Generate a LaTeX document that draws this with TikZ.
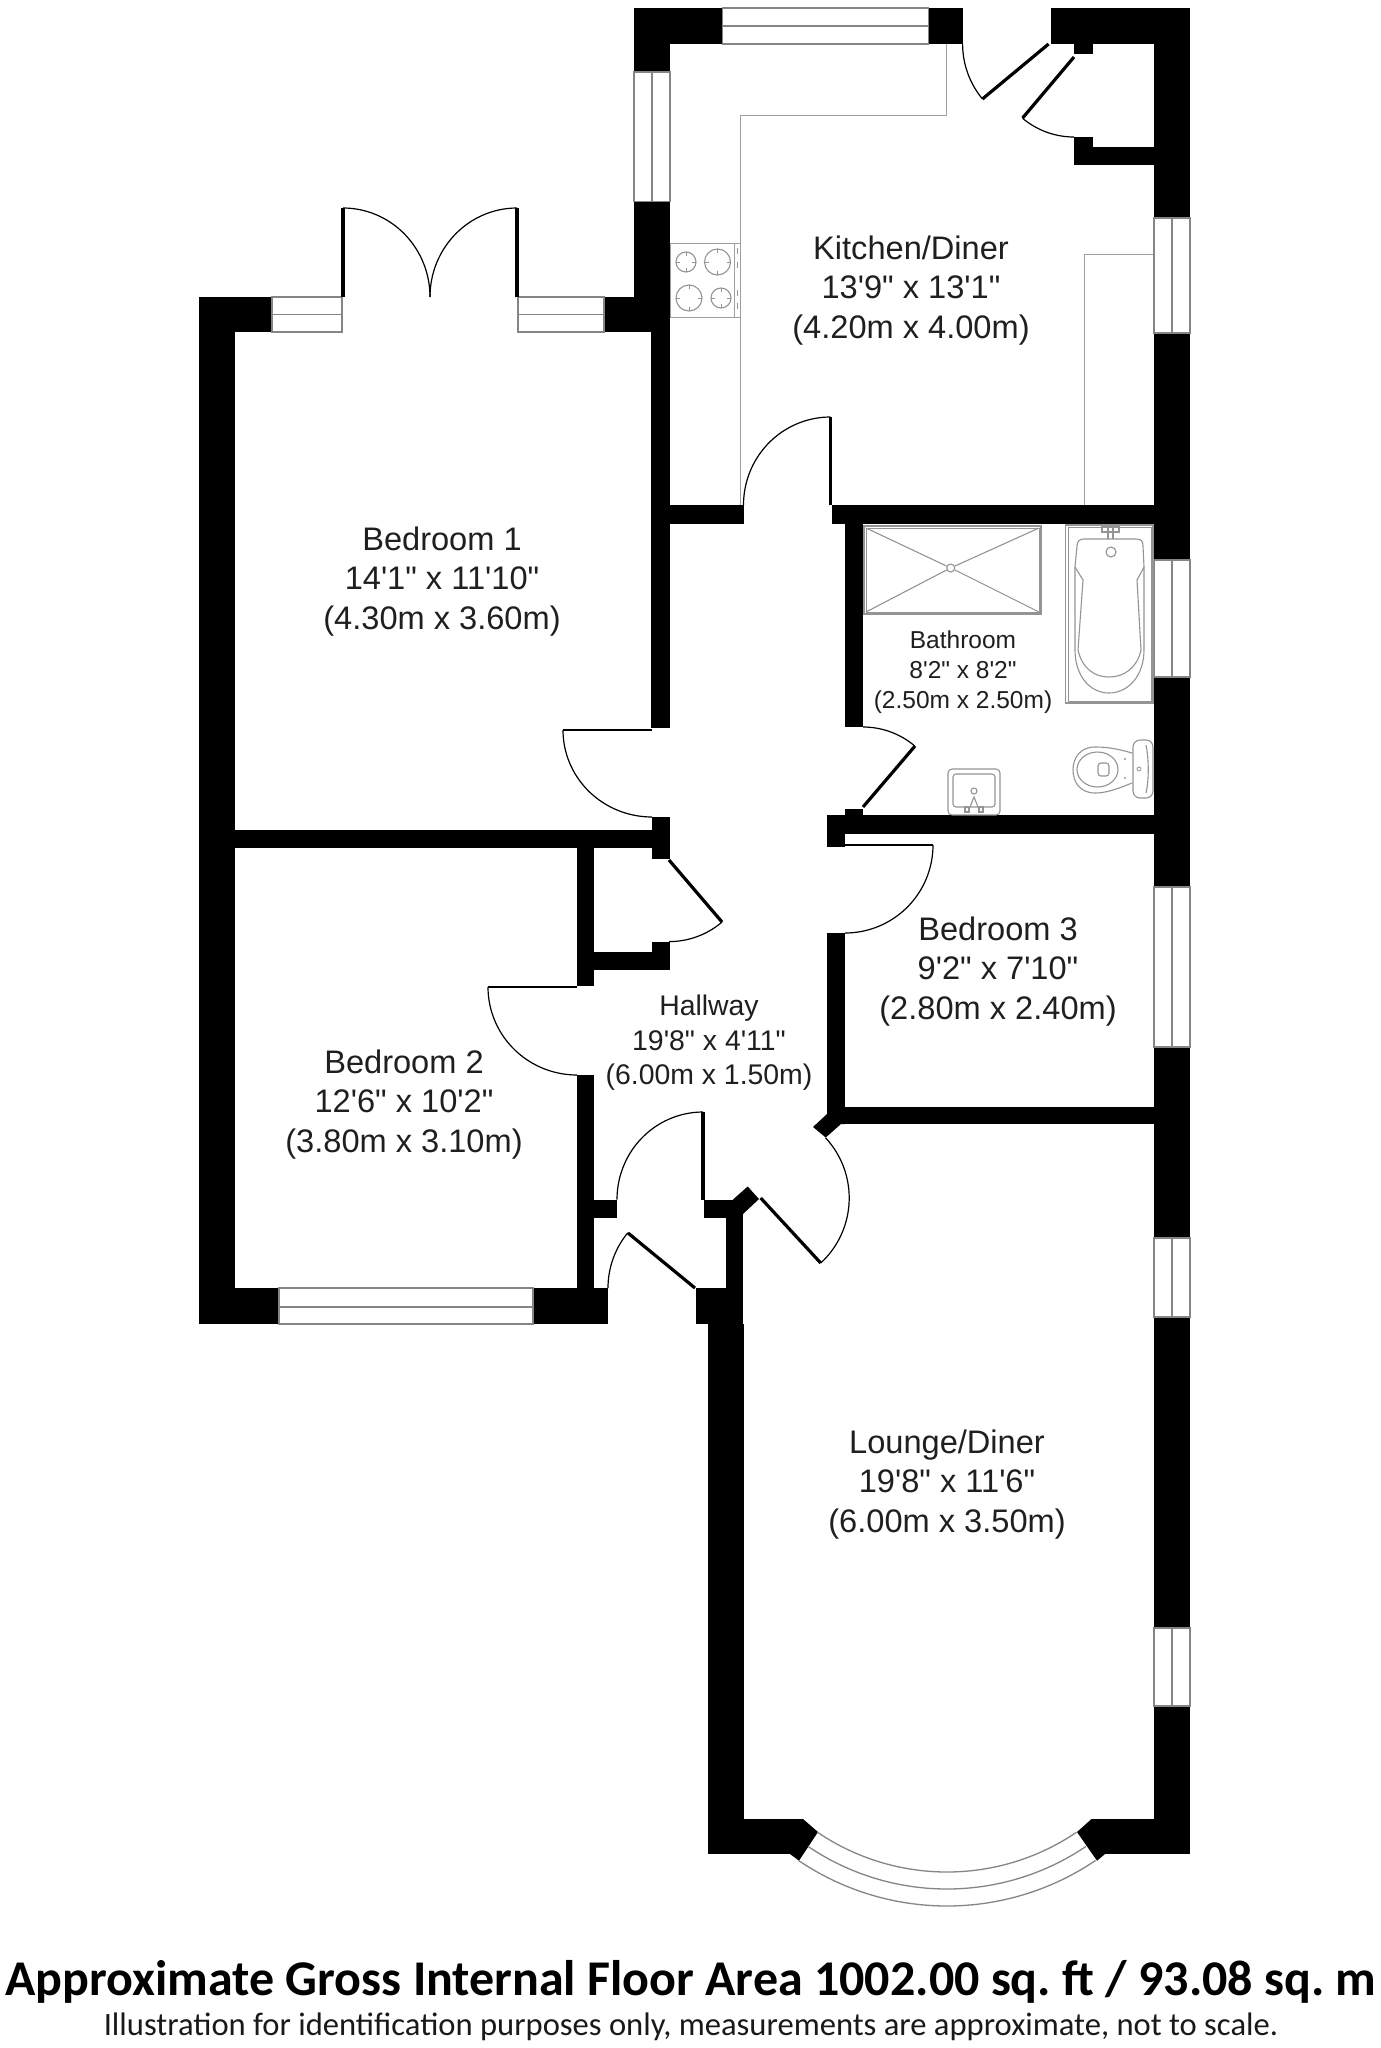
\documentclass[tikz,border=0pt]{standalone}
\usepackage{fontspec}
\newfontfamily\labelfont{Liberation Sans}
\newfontfamily\notefont{Carlito}
\tikzset{
  x=1pt,y=-1pt,
  wall/.style={fill=black,draw=none},
  winframe/.style={draw=black!48,line width=1.3pt,fill=white},
  winmid/.style={draw=black!48,line width=1.3pt},
  leaf/.style={draw=black,line width=3.2pt},
  thinleaf/.style={draw=black,line width=2pt},
  swing/.style={draw=black,line width=1.2pt},
  unit/.style={draw=black!38,line width=1pt},
  fixture/.style={draw=black!42,line width=1.1pt},
  roomtext/.style={align=center,text=black!88,inner sep=0pt},
  bigroom/.style={roomtext,font=\labelfont\fontsize{32.6}{39.5}\selectfont},
  hallroom/.style={roomtext,font=\labelfont\fontsize{28.4}{34.5}\selectfont},
  bathroom/.style={roomtext,font=\labelfont\fontsize{24.5}{30}\selectfont},
}
\newcommand\wallrect[4]{\fill[wall] (#1,#2) rectangle (#3,#4);}
\newcommand\winH[5]{\draw[winframe] (#1,#2) rectangle (#3,#4); \draw[winmid] (#1,#5) -- (#3,#5);}
\newcommand\winV[5]{\draw[winframe] (#1,#2) rectangle (#3,#4); \draw[winmid] (#5,#2) -- (#5,#4);}
\newcommand\doorarc[7][swing]{\draw[#1] plot[domain=#6:#7,samples=30,smooth] ({#2+#4*cos(\x)},{#3+#5*sin(\x)});}
\begin{document}
\begin{tikzpicture}
\frenchspacing
\fill[white] (0,0) rectangle (1381,2048);
\useasboundingbox (0,0) rectangle (1381,2048);
% ---------- worktops
\draw[unit] (946,44) -- (946,115) -- (740,115) -- (740,505);
\draw[unit] (1154,254) -- (1084,254) -- (1084,505);
% ---------- hob
\draw[unit] (670,243) rectangle (740,317.5);
\draw[unit] (734,243) -- (734,317.5);
\foreach \cx/\cy/\r in {686/262/10,717.5/262/13,689/298/13,721/298/10}{
  \draw[fixture] (\cx,\cy) circle (\r);
  \draw[fixture,line width=.8pt] (\cx-\r,\cy) -- (\cx-\r+4,\cy) (\cx+\r,\cy) -- (\cx+\r-4,\cy)
     (\cx,\cy-\r) -- (\cx,\cy-\r+4) (\cx,\cy+\r) -- (\cx,\cy+\r-4);
}
\foreach \ty in {251,265,293,306}{\draw[fixture,line width=.8pt] (737,\ty-3) -- (737,\ty+3);}
% ---------- walls
\wallrect{634}{8}{722.6}{44}
\wallrect{634}{44}{670}{72}
\wallrect{928.5}{8}{962.5}{44}
\wallrect{634}{201.5}{670}{332}
\wallrect{604}{297}{670}{332}
\wallrect{651}{332}{670}{728}
\wallrect{199}{297}{272}{332}
\wallrect{199}{297}{235}{1324}
\wallrect{199}{1288}{279}{1324}
\wallrect{235}{830}{652}{848}
\wallrect{652}{817}{670}{859}
\wallrect{577}{848}{594}{986}
\wallrect{594}{952}{670}{970}
\wallrect{652}{941.5}{670}{970}
\wallrect{577}{1075}{594}{1288}
\wallrect{533}{1288}{608}{1324}
\wallrect{594}{1199.5}{617}{1218}
\wallrect{670}{505}{744}{524}
\wallrect{832}{505}{1154}{524}
\wallrect{845}{524}{863}{727}
\wallrect{845}{809}{863}{815}
\wallrect{827}{815}{1154}{834}
\wallrect{827}{834}{845}{847}
\wallrect{827}{933}{845}{1114}
\wallrect{845}{1107}{1154}{1124}
\fill[wall] (813,1127) -- (827,1114) -- (845,1107) -- (845,1124) -- (841,1124) -- (825.7,1137.5) -- cycle;
\wallrect{1154}{8}{1190}{218}
\wallrect{1154}{333}{1190}{560}
\wallrect{1154}{677}{1190}{887}
\wallrect{1154}{1047}{1190}{1238}
\wallrect{1154}{1317}{1190}{1628}
\wallrect{1154}{1706}{1190}{1854}
\wallrect{1050.5}{8}{1190}{44}
\wallrect{1074}{44}{1092.6}{54}
\wallrect{1074}{137}{1092.6}{147}
\wallrect{1074}{147}{1154}{164.6}
\wallrect{726}{1199.5}{743}{1288}
\wallrect{704}{1199.5}{733}{1218}
\fill[wall] (733,1199.5) -- (747.7,1186.5) -- (759,1199) -- (743,1214) -- (733,1214) -- cycle;
\wallrect{696}{1288}{743}{1324}
\wallrect{708}{1324}{744}{1854}
\wallrect{708}{1819}{803}{1854}
\fill[wall] (803,1819) -- (818,1832) -- (799,1860.7) -- (790,1854) -- (790,1819) -- cycle;
\wallrect{1091.5}{1819}{1190}{1854}
\fill[wall] (1091.5,1819) -- (1077,1832) -- (1097,1860.7) -- (1105,1854) -- (1105,1819) -- cycle;
% ---------- windows
\winH{722.6}{8}{928.5}{44}{26}
\winV{634}{72}{670}{201.5}{652}
\winV{1154}{218}{1190}{333}{1172}
\winV{1154}{560}{1190}{677}{1172}
\winV{1154}{887}{1190}{1047}{1172}
\winV{1154}{1238}{1190}{1317}{1172}
\winV{1154}{1628}{1190}{1706}{1172}
\winH{272}{297}{342}{332}{314.5}
\winH{518}{297}{604}{332}{314.5}
\winH{279}{1288}{533}{1324}{1307}
% ---------- bay window
\doorarc[winmid]{947}{1641}{231}{231}{55.9}{124.1}
\doorarc[winmid]{947}{1641}{248}{248}{55.9}{124.1}
\doorarc[winmid]{947}{1641}{265}{265}{55.9}{124.1}
% ---------- doors
\draw[leaf] (343,297) -- (343,208);
\doorarc{343}{297}{87}{89}{-90}{0}
\draw[leaf] (517,297) -- (517,208);
\doorarc{517}{297}{87}{89}{-90}{-180}
\draw[leaf] (830.5,505) -- (830.5,417);
\doorarc{830.5}{505}{87}{88}{-90}{-180}
\draw[leaf] (1048.6,44) -- (982.4,99);
\doorarc{1048.6}{44}{86}{86}{140.3}{180}
\draw[leaf] (1074,57) -- (1022.6,118);
\doorarc{1074}{57}{80}{80}{130}{90}
\draw[leaf] (863,807) -- (915,746);
\doorarc{863}{807}{80}{80}{-49.6}{-90}
\draw[thinleaf] (652,730) -- (563,730);
\doorarc{652}{730}{89}{87}{180}{90}
\draw[leaf] (669,860) -- (722,922);
\doorarc{669}{860}{81.6}{81.6}{49.5}{90}
\draw[thinleaf] (577,987) -- (488,987);
\doorarc{577}{987}{89}{88}{180}{90}
\draw[thinleaf] (845,845) -- (933,845);
\doorarc{845}{845}{88}{88}{0}{90}
\draw[leaf] (703,1199.5) -- (703,1112);
\doorarc{703}{1199.5}{86}{87.5}{-90}{-180}
\draw[leaf] (695,1288) -- (628,1233);
\doorarc{695}{1288}{87}{87}{219.4}{180}
\draw[leaf] (760.7,1198) -- (820.7,1263);
\doorarc{760.7}{1198}{88.5}{88.5}{47.3}{-42.9}
% ---------- shower
\draw[fixture] (864,526) rectangle (1041,614);
\draw[fixture,line width=.8pt] (866,528) rectangle (1039,612);
\draw[fixture] (866,528) -- (946.5,566) (866,612) -- (946.5,570) (1039,528) -- (955,566) (1039,612) -- (955,570);
\draw[fixture] (950.7,568) circle (4);
% ---------- bath
\draw[fixture] (1065.7,525) rectangle (1153,703);
\draw[fixture,line width=.8pt] (1068,527) rectangle (1151,701);
\draw[fixture] (1102,527) rectangle (1119,532) (1108,527) -- (1108,539) (1113,527) -- (1113,539);
\draw[fixture] (1075,567) -- (1077,546) .. controls (1077,541) and (1080,539) .. (1084,539)
   -- (1136,539) .. controls (1141,539) and (1143,541) .. (1143,546) -- (1144,567)
   -- (1144,650) .. controls (1144,676) and (1128,693) .. (1109,693)
   .. controls (1090,693) and (1075,676) .. (1075,650) -- cycle;
\draw[fixture] (1075,567) -- (1083,580) -- (1078,650) .. controls (1082,668) and (1094,677) .. (1109,677)
   .. controls (1124,677) and (1137,668) .. (1141,650) -- (1137,580) -- (1144,567);
\draw[fixture] (1111,552) circle (5);
% ---------- toilet
\draw[fixture,rounded corners=7pt] (1133,740) rectangle (1153,798);
\draw[fixture] (1146,745) .. controls (1149,760) and (1149,780) .. (1146,793);
\draw[fixture] (1132,753) .. controls (1115,748) and (1105,747) .. (1095,747)
   .. controls (1080,747) and (1073,758) .. (1073,770)
   .. controls (1073,782) and (1080,793) .. (1095,793)
   .. controls (1105,793) and (1115,790) .. (1132,783);
\draw[fixture] (1097.5,769.5) ellipse (20.5 and 17.5);
\draw[fixture,rounded corners=3pt] (1098,763) rectangle (1109,776);
\fill[black!42] (1125,759) circle (1.2) (1125,778) circle (1.2);
\draw[fixture,line width=.8pt] (1139,769) circle (2);
% ---------- basin
\draw[fixture,rounded corners=4pt] (948,769) rectangle (1000,815);
\draw[fixture,rounded corners=3pt] (953,774) rectangle (995,807);
\draw[fixture] (974,791) circle (3);
\draw[fixture] (970,807) -- (974,797) -- (978,807);
\draw[fixture] (965,807) rectangle (969,812) (979,807) rectangle (983,812);
% ---------- labels
\node[bigroom] (kitchen) at (911,290.5) {Kitchen/Diner\\13'9" x 13'1"\\(4.20m x 4.00m)};
\node[bigroom] (bed1) at (442,581.5) {Bedroom 1\\14'1" x 11'10"\\(4.30m x 3.60m)};
\node[bigroom] (bed2) at (404,1104.5) {Bedroom 2\\12'6" x 10'2"\\(3.80m x 3.10m)};
\node[bigroom] (bed3) at (998,971.5) {Bedroom 3\\9'2" x 7'10"\\(2.80m x 2.40m)};
\node[bathroom] (bath) at (963,672) {Bathroom\\8'2" x 8'2"\\(2.50m x 2.50m)};
\node[hallroom] (hall) at (709,1043) {Hallway\\19'8" x 4'11"\\(6.00m x 1.50m)};
\node[bigroom] (lounge) at (947,1484.5) {Lounge/Diner\\19'8" x 11'6"\\(6.00m x 3.50m)};
\node[inner sep=0pt,text=black,font=\notefont\bfseries\fontsize{50}{53}\selectfont] (area) at (691,1982) {Approximate Gross Internal Floor Area 1002.00 sq. ft / 93.08 sq. m};
\node[inner sep=0pt,text=black!90,font=\notefont\fontsize{32.6}{36}\selectfont] (note) at (691,2027) {Illustration for identification purposes only, measurements are approximate, not to scale.};
\end{tikzpicture}
\end{document}
